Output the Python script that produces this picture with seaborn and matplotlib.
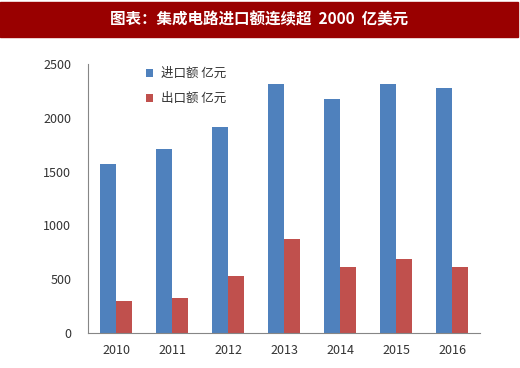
import pandas as pd
import numpy as np
import seaborn as sns
from matplotlib import pyplot as plt
from matplotlib.patches import Rectangle

years = ['2010', '2011', '2012', '2013', '2014', '2015', '2016']
imports = [1575, 1710, 1917, 2315, 2172, 2311, 2274]
exports = [297, 328, 527, 876, 611, 688, 613]
series = ['进口额 亿元', '出口额 亿元']
title = '图表：集成电路进口额连续超  2000  亿美元'

df = pd.DataFrame({'year': years * 2,
                   'value': imports + exports,
                   'series': [series[0]] * len(years) + [series[1]] * len(years)})

sns.set_style('white')
plt.rcParams['font.family'] = ['Noto Sans CJK SC', 'DejaVu Sans']

fig = plt.figure(figsize=(5.2, 3.68), dpi=100)
ax = fig.add_axes([88 / 520, 1 - 333 / 368, 392 / 520, 269 / 368])

sns.barplot(data=df, x='year', y='value', hue='series', ax=ax,
            palette=['#4F81BD', '#C0504D'], width=0.572, gap=0, saturation=1,
            linewidth=0, edgecolor='none')

ax.set_ylim(0, 2500)
ax.set_xlim(-0.5, 6.5)
ax.set_yticks(range(0, 2501, 500))
ax.set_xlabel('')
ax.set_ylabel('')
ax.tick_params(axis='y', labelsize=9, length=0, pad=12, colors='#333333')
ax.tick_params(axis='x', which='major', labelsize=9, length=0, pad=8, colors='#333333')
ax.set_xticks(np.arange(-0.5, 7, 1), minor=True)
ax.tick_params(axis='x', which='minor', length=4, color='#868686', direction='out')
for side in ['top', 'right']:
    ax.spines[side].set_visible(False)
for side in ['left', 'bottom']:
    ax.spines[side].set_color('#868686')
    ax.spines[side].set_linewidth(0.8)

leg = ax.legend(loc='upper left', bbox_to_anchor=(0.118, 1.03), frameon=False,
                fontsize=9, handlelength=0.6, handleheight=0.6, handletextpad=0.6,
                labelspacing=0.95)
for t in leg.get_texts():
    t.set_color('#333333')

fig.patches.append(Rectangle((0, 1 - 37 / 368), 518 / 520, 35 / 368,
                             transform=fig.transFigure, color='#990000', zorder=0))
fig.text(259 / 520, 1 - 19.5 / 368, title, color='white', fontsize=11.2,
         fontweight='bold', ha='center', va='center')

fig.savefig('out.png', dpi=100)
